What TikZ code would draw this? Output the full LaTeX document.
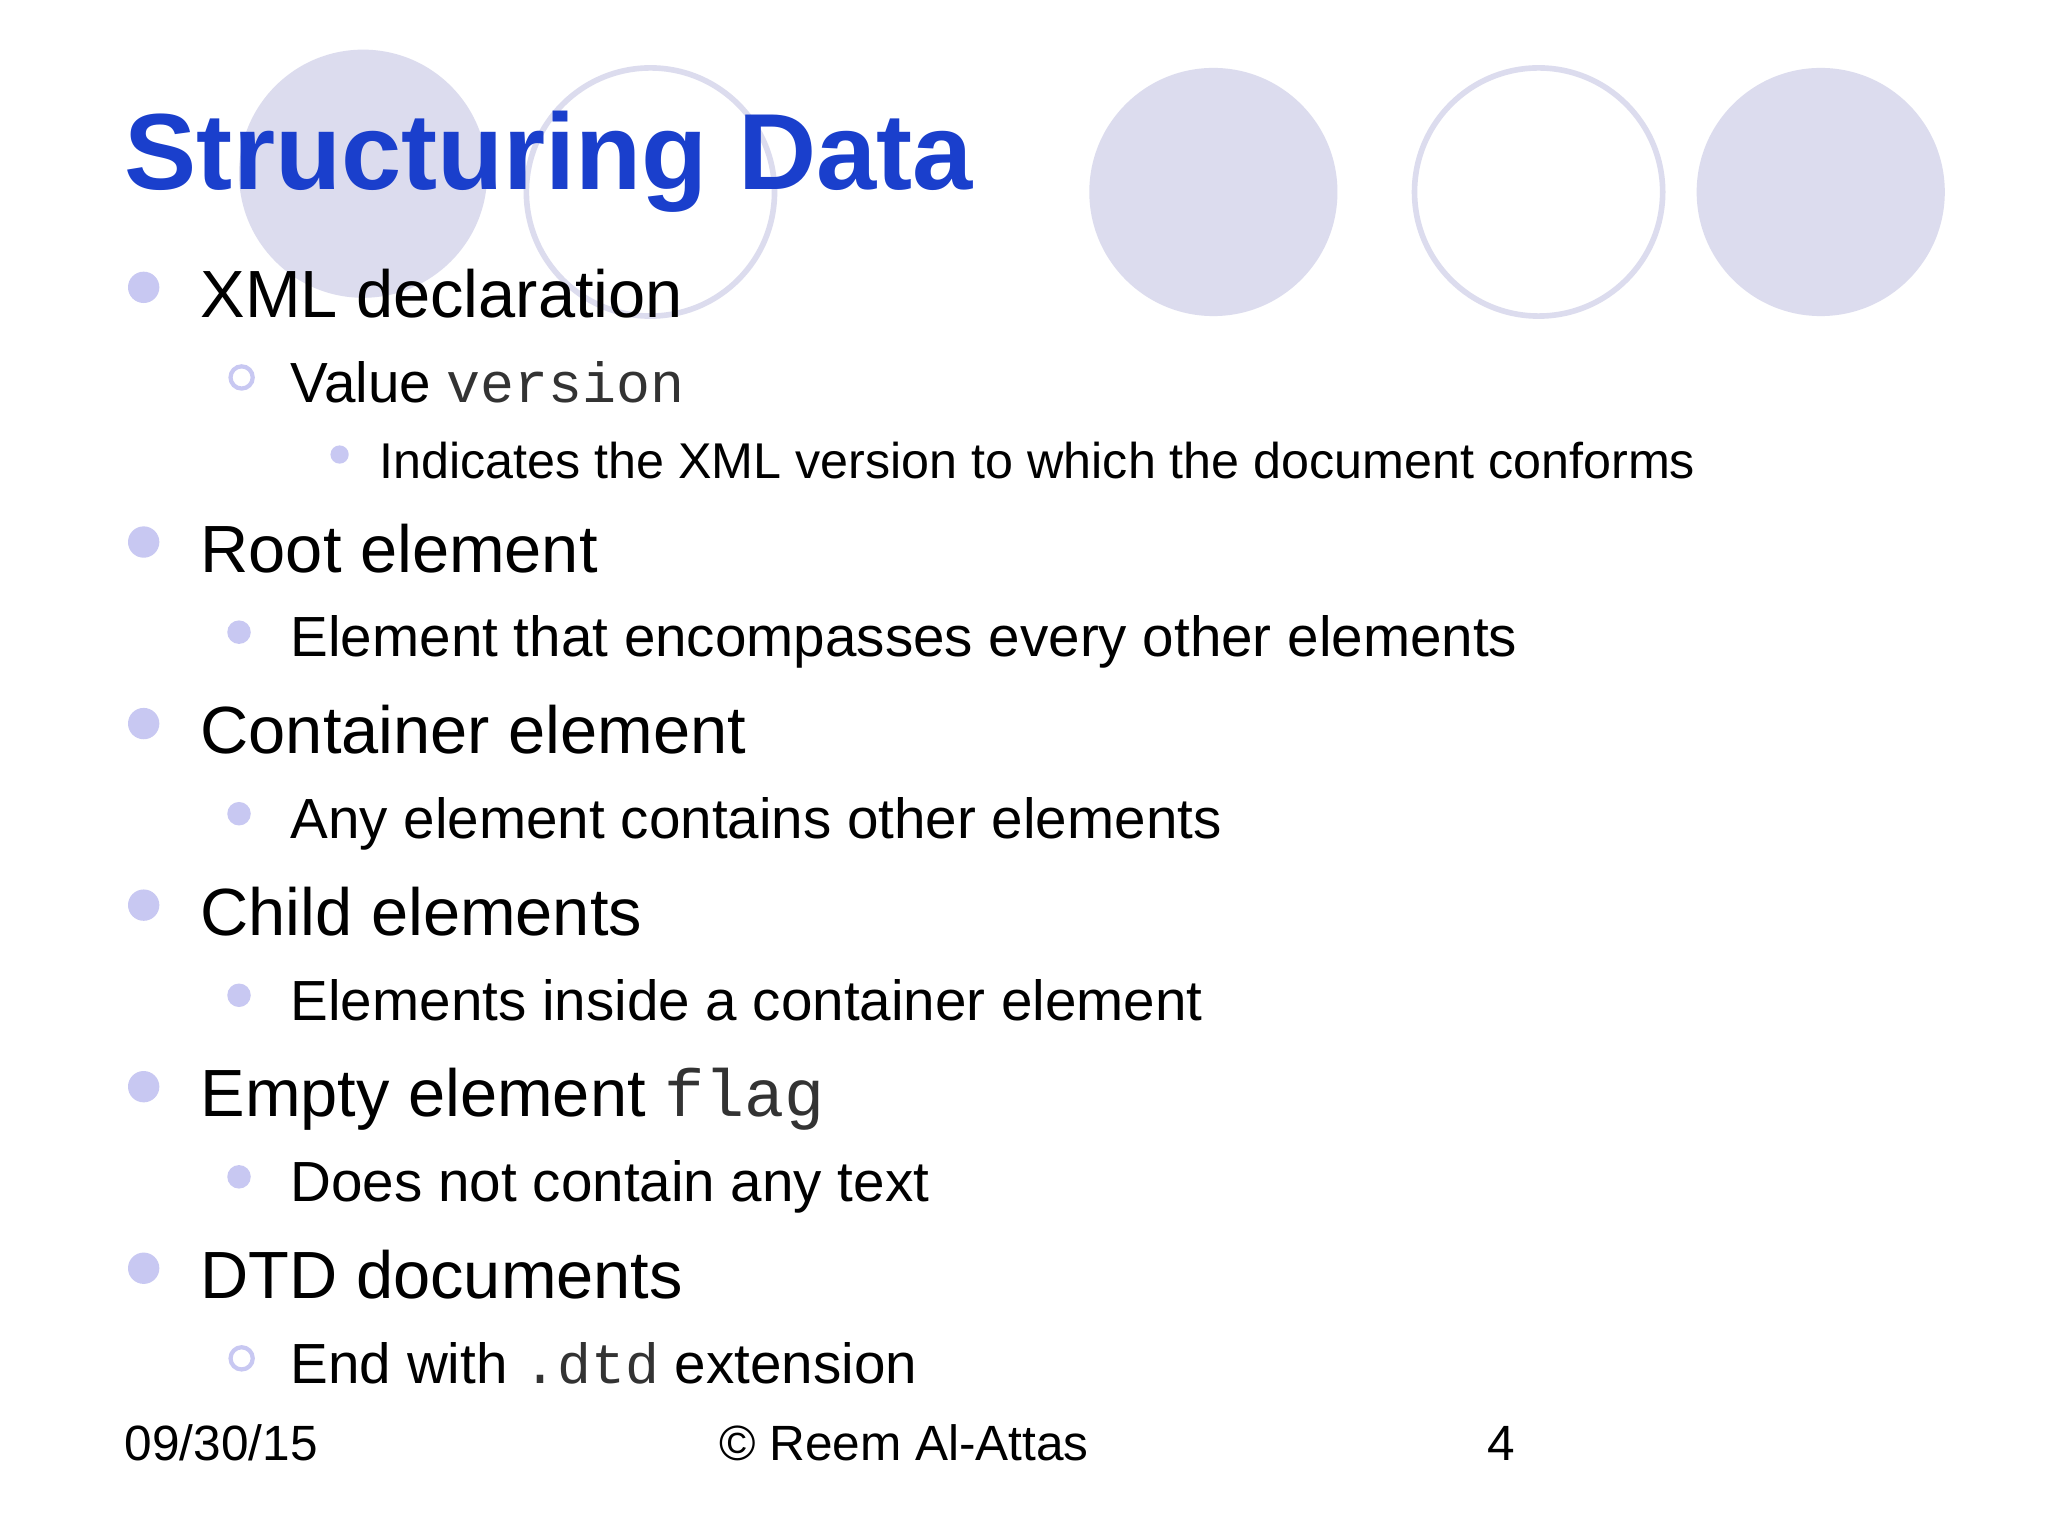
\documentclass[tikz,border=0pt]{standalone}
\usepackage{fontspec}
\setmainfont{Liberation Sans}
\setmonofont{Liberation Mono}
\begin{document}
\begin{tikzpicture}[x=0.013061cm,y=-0.013061cm]
\definecolor{circ}{HTML}{DCDCEE}
\definecolor{bul}{HTML}{C8C8F2}
\definecolor{ttl}{HTML}{1A3FCC}
\definecolor{mono}{HTML}{333333}
\newcommand{\mytt}[1]{{\color{mono}\texttt{#1}}}
\tikzset{
 fc/.style={fill=circ,draw=none},
 oc/.style={draw=circ,line width=1.6pt,fill=none},
 lone/.style={anchor=base west,inner sep=0,font=\fontsize{19}{20}\selectfont},
 ltwo/.style={anchor=base west,inner sep=0,font=\fontsize{16.1}{18}\selectfont},
 lthree/.style={anchor=base west,inner sep=0,font=\fontsize{14.3}{16}\selectfont},
 lfoot/.style={anchor=base west,inner sep=0,font=\fontsize{14.1}{16}\selectfont},
 bone/.style={fill=bul,draw=none,circle,minimum size=24*0.013061cm,inner sep=0},
 btwo/.style={fill=bul,draw=none,circle,minimum size=18*0.013061cm,inner sep=0},
 btwoo/.style={draw=bul,line width=1.2pt,circle,minimum size=17*0.013061cm,inner sep=0},
 bthree/.style={fill=bul,draw=none,circle,minimum size=14*0.013061cm,inner sep=0},
}
\fill[white] (0,0) rectangle (1568,1176);
\fill[fc] (278,133) circle (95);
\draw[oc] (498,147) circle (95);
\fill[fc] (929,147) circle (95);
\draw[oc] (1178,147) circle (95);
\fill[fc] (1394,147) circle (95);
\node[anchor=base west,inner sep=0,text=ttl,font=\fontsize{30.8}{36}\selectfont\bfseries] (title) at (95,145) {Structuring Data};
\node[bone] (b1) at (110,220) {};
\node[lone] (t1) at (153,243) {XML declaration};
\node[btwoo] (b2) at (185,289) {};
\node[ltwo] (t2) at (222,308) {Value \mytt{version}};
\node[bthree] (b3) at (260,348) {};
\node[lthree] (t3) at (290,366) {Indicates the XML version to which the document conforms};
\node[bone] (b4) at (110,415) {};
\node[lone] (t4) at (153,438) {Root element};
\node[btwo] (b5) at (183,484) {};
\node[ltwo] (t5) at (222,503) {Element that encompasses every other elements};
\node[bone] (b6) at (110,554) {};
\node[lone] (t6) at (153,577) {Container element};
\node[btwo] (b7) at (183,623) {};
\node[ltwo] (t7) at (222,642) {Any element contains other elements};
\node[bone] (b8) at (110,693) {};
\node[lone] (t8) at (153,716) {Child elements};
\node[btwo] (b9) at (183,762) {};
\node[ltwo] (t9) at (222,781) {Elements inside a container element};
\node[bone] (b10) at (110,832) {};
\node[lone] (t10) at (153,855) {Empty element \mytt{flag}};
\node[btwo] (b11) at (183,901) {};
\node[ltwo] (t11) at (222,920) {Does not contain any text};
\node[bone] (b12) at (110,971) {};
\node[lone] (t12) at (153,994) {DTD documents};
\node[btwoo] (b13) at (185,1040) {};
\node[ltwo] (t13) at (222,1059) {End with \mytt{.dtd} extension};
\node[lfoot] (f1) at (95,1118) {09/30/15};
\node[lfoot] (f2) at (550,1118) {© Reem Al-Attas};
\node[lfoot] (f3) at (1138,1118) {4};
\end{tikzpicture}
\end{document}
